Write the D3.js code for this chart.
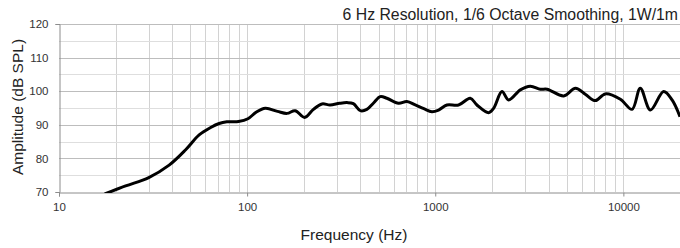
<!DOCTYPE html>
<html>
<head>
<meta charset="utf-8">
<script src="https://cdn.jsdelivr.net/npm/d3@7"></script>
<style>
  body { margin: 0; background: #fff; }
  svg { display: block; font-family: "Liberation Sans", Arial, sans-serif; }
</style>
</head>
<body>
<svg id="chart" width="680" height="248"></svg>
<script>
// Frequency response
var freqs = [17.5, 22.6, 30, 38.5, 47, 55.6, 64, 71, 78, 90, 101, 112, 125, 145, 163, 180, 202, 225, 250, 276, 310, 340, 367, 400, 433, 470, 510, 553, 638, 707, 783, 870, 960, 1042, 1154, 1330, 1535, 1666, 1922, 2043, 2263, 2455, 2833, 3200, 3620, 3930, 4820, 5560, 6300, 7100, 8020, 9640, 11120, 12300, 13930, 16370, 18150, 20000];
var spl = [69.4, 71.8, 74.3, 78, 82.5, 87, 89.2, 90.4, 90.9, 91, 91.8, 93.8, 94.9, 94, 93.4, 94.2, 92.2, 94.6, 96.2, 95.9, 96.4, 96.6, 96.3, 94.2, 94.6, 96.5, 98.4, 97.9, 96.4, 96.9, 95.9, 94.8, 93.9, 94.4, 95.9, 95.9, 97.9, 95.9, 93.6, 94.9, 99.9, 97.4, 100.4, 101.5, 100.6, 100.6, 98.6, 100.9, 99, 97.2, 99.2, 97.6, 94.6, 100.9, 94.4, 99.9, 97.4, 92.4];
var yTicks = [70, 80, 90, 100, 110, 120];
var xTicks = [10, 100, 1000, 10000];
var title = "6 Hz Resolution, 1/6 Octave Smoothing, 1W/1m";

var svg = d3.select("#chart");
var pLeft = 59, pRight = 680, pTop = 24, pBottom = 192;

var x = d3.scaleLog().domain([10, 20000]).range([pLeft, pRight]);
var y = d3.scaleLinear().domain([70, 120]).range([pBottom, pTop]);

svg.append("clipPath").attr("id", "plot")
  .append("rect")
  .attr("x", pLeft).attr("y", pTop)
  .attr("width", pRight - pLeft).attr("height", pBottom - pTop + 1);

// minor vertical grid (2..9 of each decade)
var minorX = [];
[10, 100, 1000, 10000].forEach(function(d) {
  for (var k = 1; k < 10; k++) {
    if (d * k <= 20000 && d * k > 10) minorX.push(d * k);
  }
});
svg.append("g")
  .selectAll("line")
  .data(minorX)
  .enter().append("line")
  .attr("x1", function(d) { return Math.round(x(d)) + 0.5; })
  .attr("x2", function(d) { return Math.round(x(d)) + 0.5; })
  .attr("y1", pTop).attr("y2", pBottom)
  .style("stroke", "#d2d2d2").style("stroke-width", 1);

// horizontal grid, every 5 dB (10 dB darker)
var hLines = d3.range(75, 121, 5);
svg.append("g")
  .selectAll("line")
  .data(hLines)
  .enter().append("line")
  .attr("x1", pLeft).attr("x2", pRight)
  .attr("y1", function(d) { return Math.round(y(d)) + 0.5; })
  .attr("y2", function(d) { return Math.round(y(d)) + 0.5; })
  .style("stroke", function(d) { return d % 10 === 0 ? "#bdbdbd" : "#dedede"; })
  .style("stroke-width", 1);

// axes
var xAxis = d3.axisBottom(x).tickValues(xTicks).tickFormat(d3.format("d")).tickSize(4).tickPadding(6);
var yAxis = d3.axisLeft(y).tickValues(yTicks).tickSize(4).tickPadding(7);

var gx = svg.append("g").attr("transform", "translate(0," + (pBottom + 0.5) + ")").call(xAxis);
var gy = svg.append("g").attr("transform", "translate(" + (pLeft + 0.5) + ",0)").call(yAxis);

[gx, gy].forEach(function(g) {
  g.select(".domain").style("stroke", "#8c8c8c");
  g.selectAll(".tick line").style("stroke", "#8c8c8c");
  g.selectAll("text").style("font-size", "11.5px").style("fill", "#333")
    .style("font-family", "'Liberation Sans', Arial, sans-serif");
});
gy.selectAll(".tick").filter(function(d) { return d !== 70 && d !== 120; }).select("line").remove();

// response curve
var line = d3.line()
  .x(function(d, i) { return x(freqs[i]); })
  .y(function(d) { return y(d); })
  .curve(d3.curveCatmullRom.alpha(0.5));

svg.append("path")
  .datum(spl)
  .attr("clip-path", "url(#plot)")
  .attr("d", line)
  .style("fill", "none")
  .style("stroke", "#000")
  .style("stroke-width", 3)
  .style("stroke-linejoin", "round");

// texts
svg.append("text")
  .attr("x", 678).attr("y", 19.5)
  .attr("text-anchor", "end")
  .style("font-size", "15.8px").style("fill", "#222")
  .text(title);

svg.append("text")
  .attr("x", 354).attr("y", 240)
  .attr("text-anchor", "middle")
  .style("font-size", "15.5px").style("fill", "#222")
  .text("Frequency (Hz)");

svg.append("text")
  .attr("transform", "translate(23,107) rotate(-90)")
  .attr("text-anchor", "middle")
  .style("font-size", "15.5px").style("fill", "#222")
  .text("Amplitude (dB SPL)");
</script>
</body>
</html>
